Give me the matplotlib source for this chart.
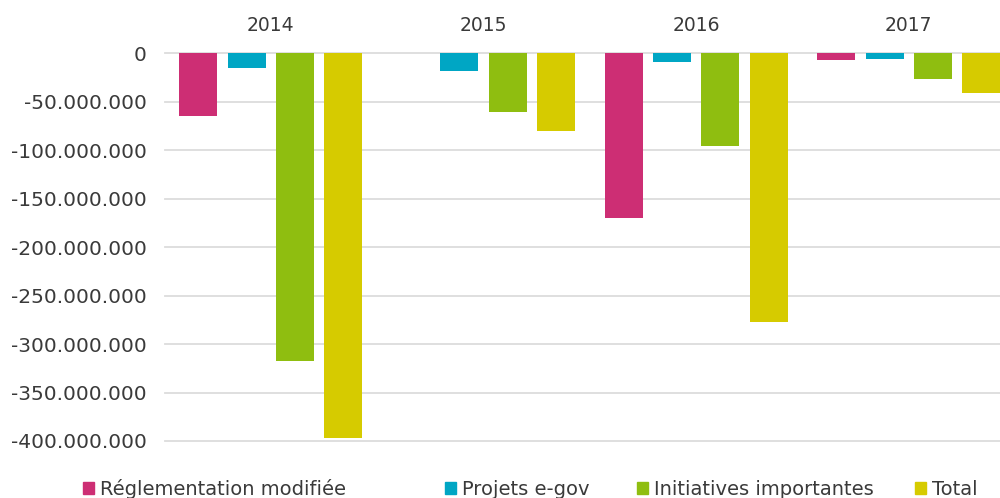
import numpy as np
import matplotlib
matplotlib.use('Agg')
from matplotlib import pyplot as plt
from matplotlib.patches import Patch
from matplotlib.ticker import FuncFormatter, MultipleLocator

years = ['2014', '2015', '2016', '2017']
series = ['Réglementation modifiée', 'Projets e-gov', 'Initiatives importantes', 'Total']
colors = ['#cd2e74', '#00a6c4', '#8fbe10', '#d6cb00']

# values in CHF (in millions)
reglementation = [-64.5e6, 0, -170e6, -7e6]
egov = [-15e6, -18e6, -9e6, -6e6]
initiatives = [-317e6, -61e6, -96e6, -27e6]
total = [-397e6, -80.5e6, -277.5e6, -40.5e6]
values = [reglementation, egov, initiatives, total]

text_color = '#3a3a3a'

fig = plt.figure(figsize=(10, 4.98), dpi=100)
ax = fig.add_axes([0.1645, 0.1145, 0.8507, 0.7785])

x = np.arange(len(years))
pitch = 0.2275
width = 0.179
for k in range(len(series)):
    ax.bar(x + (k - 1.5) * pitch, values[k], width=width, color=colors[k],
           zorder=3, linewidth=0)

ax.set_xlim(-0.5, 3.5)
ax.set_ylim(-400e6, 0)
ax.yaxis.set_major_locator(MultipleLocator(50e6))
ax.yaxis.set_major_formatter(FuncFormatter(lambda v, p: f"{int(round(v)):,}".replace(',', '.')))
ax.grid(axis='y', color='#dcdcdc', linewidth=1.3, zorder=0)
ax.set_axisbelow(True)
for line in ax.get_ygridlines():
    line.set_clip_on(False)

for s in ax.spines.values():
    s.set_visible(False)

ax.xaxis.tick_top()
ax.set_xticks(x)
ax.set_xticklabels(years)
ax.tick_params(axis='x', length=0, pad=13, labelsize=13.5, labelcolor=text_color)
ax.tick_params(axis='y', length=0, pad=13, labelsize=14.5, labelcolor=text_color)

# legend, one entry at a time (irregular spacing in the original)
legend_x = [0.083, 0.445, 0.637, 0.915]
for k in range(len(series)):
    fig.legend(handles=[Patch(color=colors[k])], labels=[series[k]],
               loc='center left', bbox_to_anchor=(legend_x[k], 0.018),
               frameon=False, borderpad=0, borderaxespad=0,
               handlelength=0.57, handleheight=0.57, handletextpad=0.3,
               fontsize=14, labelcolor=text_color)

fig.savefig('out.png', dpi=100)
